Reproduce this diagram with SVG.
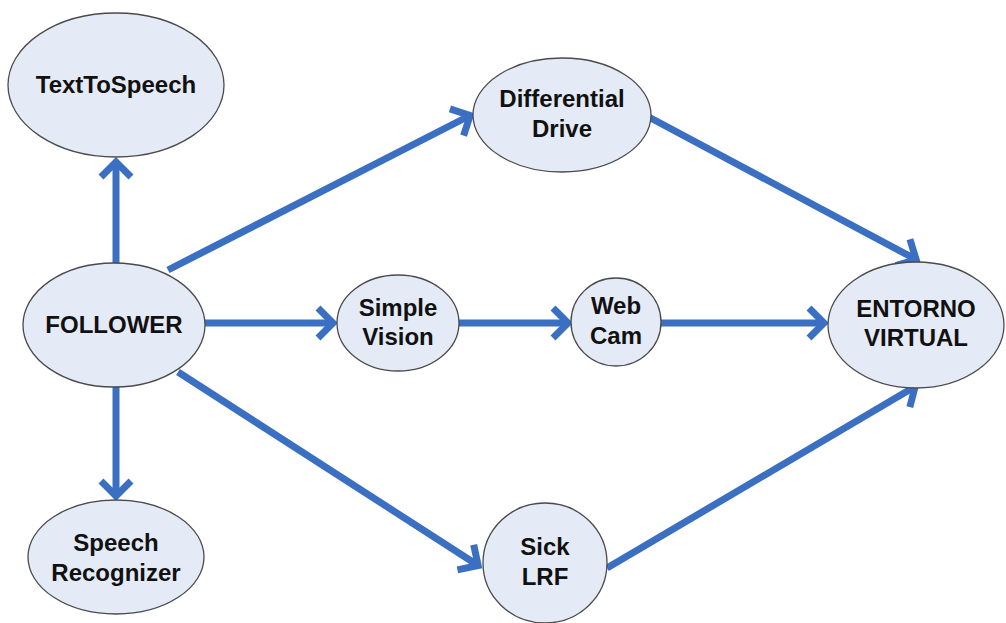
<svg xmlns="http://www.w3.org/2000/svg" width="1006" height="623" viewBox="0 0 1006 623">
<style>
.n{fill:#e5ebf6;stroke:#4a4a4a;stroke-width:1.3}
.t{font-family:"Liberation Sans",Arial,sans-serif;font-weight:bold;font-size:24px;fill:#111;text-anchor:middle}
.c{fill:none;stroke:#3b6fc2;stroke-width:7;marker-end:url(#ah)}
</style>
<defs>
<marker id="ah" markerUnits="userSpaceOnUse" markerWidth="44" markerHeight="44" viewBox="-28 -22 34 44" refX="0" refY="0" orient="auto">
<path d="M-16,-15 L-1,0 L-16,15" fill="none" stroke="#3b6fc2" stroke-width="7" stroke-linejoin="miter"/>
</marker>
</defs>
<rect width="1006" height="623" fill="#fff"/>
<g id="connectors">
<path class="c" d="M116,263 L116,161"/>
<path class="c" d="M116,387 L116,497"/>
<path class="c" d="M168,270 L471,115"/>
<path class="c" d="M205,323 L334,323"/>
<path class="c" d="M459,323 L569,323"/>
<path class="c" d="M660,323 L825,323"/>
<path class="c" d="M178,372 L479,566"/>
<path class="c" d="M645,115 L917,260"/>
<path class="c" d="M607,568 L916,386"/>
</g>
<g id="TextToSpeech"><ellipse class="n" cx="116" cy="85" rx="108" ry="72"/><text class="t" x="116" y="93">TextToSpeech</text></g>
<g id="FOLLOWER"><ellipse class="n" cx="114" cy="325" rx="91" ry="62"/><text class="t" x="114" y="333">FOLLOWER</text></g>
<g id="SpeechRecognizer"><ellipse class="n" cx="116" cy="557" rx="88" ry="57"/><text class="t" x="116" y="551">Speech</text><text class="t" x="116" y="581">Recognizer</text></g>
<g id="DifferentialDrive"><ellipse class="n" cx="562" cy="115" rx="89" ry="57"/><text class="t" x="562" y="107">Differential</text><text class="t" x="562" y="137">Drive</text></g>
<g id="SimpleVision"><ellipse class="n" cx="398" cy="323" rx="61" ry="48"/><text class="t" x="398" y="316">Simple</text><text class="t" x="398" y="345">Vision</text></g>
<g id="WebCam"><ellipse class="n" cx="616" cy="322" rx="45" ry="44"/><text class="t" x="616" y="314">Web</text><text class="t" x="616" y="344">Cam</text></g>
<g id="EntornoVirtual"><ellipse class="n" cx="916" cy="325" rx="88" ry="63"/><text class="t" x="916" y="317">ENTORNO</text><text class="t" x="916" y="346">VIRTUAL</text></g>
<g id="SickLRF"><ellipse class="n" cx="545" cy="563" rx="62" ry="60"/><text class="t" x="545" y="555">Sick</text><text class="t" x="545" y="585">LRF</text></g>
</svg>
